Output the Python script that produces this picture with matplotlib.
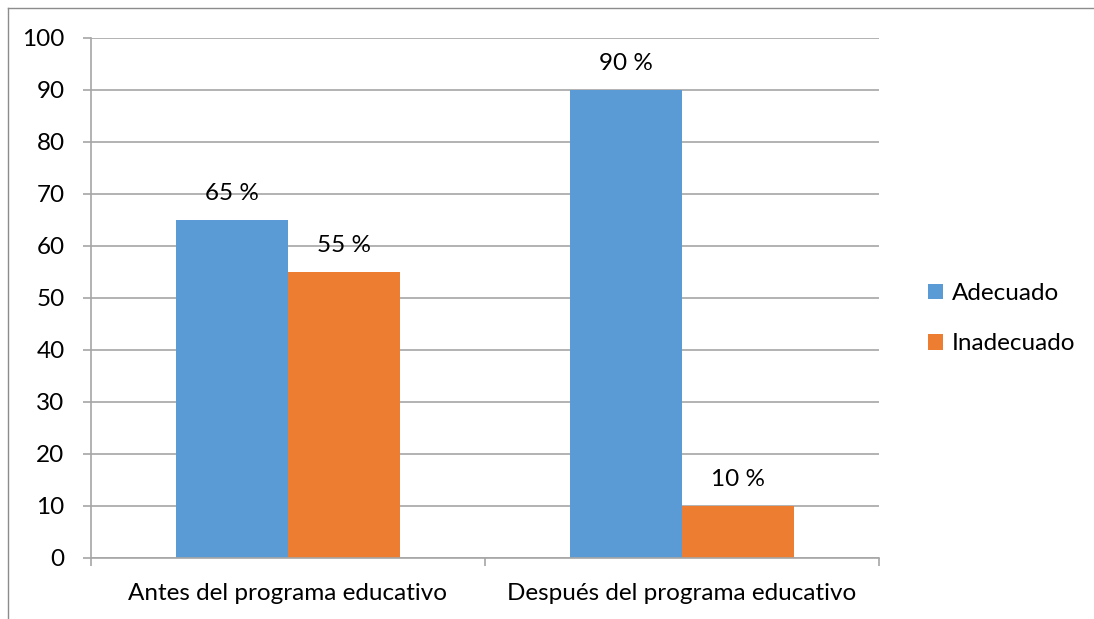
import numpy as np
from matplotlib import pyplot as plt
from matplotlib.lines import Line2D

plt.rcParams['font.family'] = ['Lato', 'DejaVu Sans']

# datos
categorias = ['Antes del programa educativo', 'Después del programa educativo']
series = ['Adecuado', 'Inadecuado']
adecuado = [65, 90]
inadecuado = [55, 10]
etiquetas_ad = ['65 %', '90 %']
etiquetas_in = ['55 %', '10 %']
yticks = [0, 10, 20, 30, 40, 50, 60, 70, 80, 90, 100]

azul = '#5B9BD5'
naranja = '#ED7D31'
gris = '#A6A6A6'
fs = 17.5

W, H = 1094, 619
fig = plt.figure(figsize=(W / 100, H / 100), dpi=100)
ax = fig.add_axes([91 / W, 1 - 558 / H, (879 - 91) / W, (558 - 38) / H])

x = np.arange(len(categorias))
ancho = 112 / 394
b1 = ax.bar(x - ancho / 2, adecuado, ancho, color=azul, label=series[0], zorder=2)
b2 = ax.bar(x + ancho / 2, inadecuado, ancho, color=naranja, label=series[1], zorder=2)

for barras, etq in ((b1, etiquetas_ad), (b2, etiquetas_in)):
    for r, t in zip(barras, etq):
        ax.annotate(t, (r.get_x() + r.get_width() / 2, r.get_height()),
                    xytext=(0, 19), textcoords='offset points',
                    ha='center', va='center', fontsize=fs, color='#000000')

ax.set_xlim(-0.5, 1.5)
ax.set_ylim(0, 100)
ax.set_yticks(yticks)
ax.yaxis.grid(True, color=gris, linewidth=1.2, zorder=0)
ax.set_axisbelow(True)

for s in ('top', 'right'):
    ax.spines[s].set_visible(False)
for s in ('left', 'bottom'):
    ax.spines[s].set_color(gris)
    ax.spines[s].set_linewidth(1.2)

# ticks del eje x en los limites de categoria, etiquetas al centro
ax.set_xticks([-0.5, 0.5, 1.5])
ax.set_xticklabels([])
ax.set_xticks(x, minor=True)
ax.set_xticklabels(categorias, minor=True, fontsize=fs)
ax.tick_params(axis='x', which='minor', length=0, pad=18)
ax.tick_params(axis='x', which='major', length=6, color=gris, width=1.2)
ax.tick_params(axis='y', length=6, color=gris, width=1.2, labelsize=fs, pad=13)

ax.legend(handles=[b1, b2], loc='center left', bbox_to_anchor=(1.035, 0.46),
          frameon=False, fontsize=fs, handlelength=0.6, handleheight=0.6,
          handletextpad=0.35, labelspacing=1.2)

# borde del grafico
fig.add_artist(Line2D([8 / W, 8 / W], [0, 1 - 8 / H], color='#8C8C8C', linewidth=1))
fig.add_artist(Line2D([8 / W, 1], [1 - 8 / H, 1 - 8 / H], color='#8C8C8C', linewidth=1))

fig.savefig('out.png', dpi=100)
